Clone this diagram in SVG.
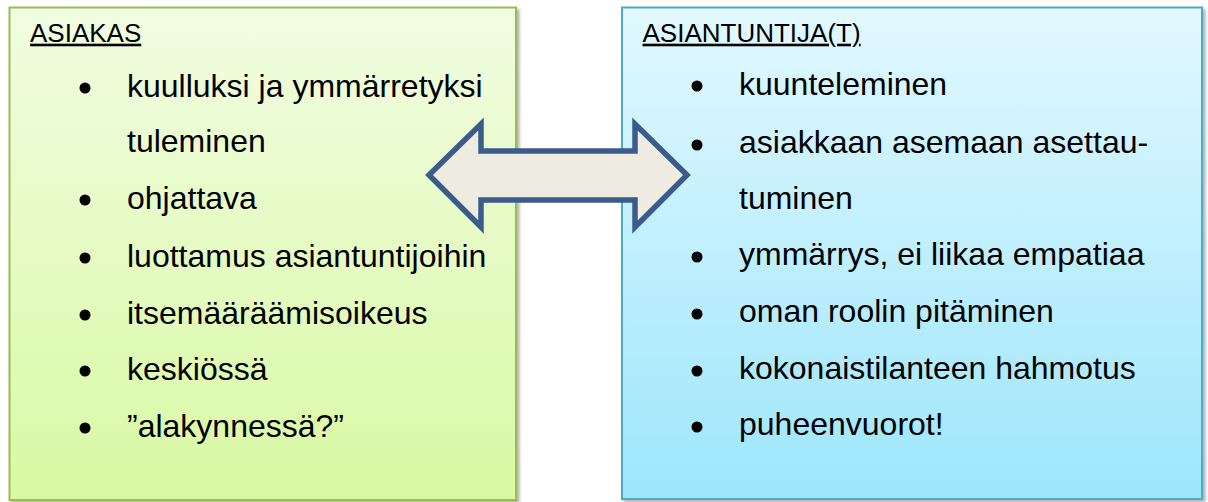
<svg xmlns="http://www.w3.org/2000/svg" width="1208" height="502" viewBox="0 0 1208 502">
<style>
.hdr{font-family:"Liberation Sans",Arial,sans-serif;font-size:26px;fill:#000;text-decoration:underline}
.item{font-family:"Liberation Sans",Arial,sans-serif;font-size:32px;fill:#000}
.dot{fill:#000}
</style>
<defs>
<linearGradient id="gGreen" x1="0" y1="0" x2="0" y2="1">
<stop offset="0" stop-color="#f1fde2"/>
<stop offset="1" stop-color="#d9f9a3"/>
</linearGradient>
<linearGradient id="gBlue" x1="0" y1="0" x2="0" y2="1">
<stop offset="0" stop-color="#e2f8ff"/>
<stop offset="1" stop-color="#9de6fc"/>
</linearGradient>
<filter id="sh" x="-5%" y="-5%" width="110%" height="110%">
<feDropShadow dx="2.5" dy="2.5" stdDeviation="1.5" flood-color="#000" flood-opacity="0.3"/>
</filter>
</defs>
<rect width="1208" height="502" fill="#fff"/>
<g id="asiakas">
<rect x="9.5" y="7.5" width="506.5" height="492.5" fill="url(#gGreen)" stroke="#9bbb59" stroke-width="2" filter="url(#sh)"/>
<text class="hdr" x="30" y="41.7">ASIAKAS</text>
<circle class="dot" cx="85" cy="88" r="5.5"/>
<text class="item" x="127" y="97">kuulluksi ja ymmärretyksi</text>
<text class="item" x="127" y="152">tuleminen</text>
<circle class="dot" cx="85" cy="200" r="5.5"/>
<text class="item" x="127" y="208.5">ohjattava</text>
<circle class="dot" cx="85" cy="258" r="5.5"/>
<text class="item" x="127" y="266.5">luottamus asiantuntijoihin</text>
<circle class="dot" cx="85" cy="315" r="5.5"/>
<text class="item" x="127" y="323.5">itsemääräämisoikeus</text>
<circle class="dot" cx="85" cy="371" r="5.5"/>
<text class="item" x="127" y="380">keskiössä</text>
<circle class="dot" cx="85" cy="428" r="5.5"/>
<text class="item" x="127" y="437">”alakynnessä?”</text>
</g>
<g id="asiantuntija">
<rect x="622" y="7.5" width="580" height="491.5" fill="url(#gBlue)" stroke="#4bacc6" stroke-width="2" filter="url(#sh)"/>
<text class="hdr" x="642.5" y="41.7">ASIANTUNTIJA(T)</text>
<circle class="dot" cx="697" cy="86" r="5.5"/>
<text class="item" x="739" y="95">kuunteleminen</text>
<circle class="dot" cx="697" cy="145" r="5.5"/>
<text class="item" x="739" y="153.3">asiakkaan asemaan asettau-</text>
<text class="item" x="739" y="208.5">tuminen</text>
<circle class="dot" cx="697" cy="257" r="5.5"/>
<text class="item" x="739" y="265">ymmärrys, ei liikaa empatiaa</text>
<circle class="dot" cx="697" cy="314" r="5.5"/>
<text class="item" x="739" y="321.7">oman roolin pitäminen</text>
<circle class="dot" cx="697" cy="371" r="5.5"/>
<text class="item" x="739" y="379.3">kokonaistilanteen hahmotus</text>
<circle class="dot" cx="697" cy="427" r="5.5"/>
<text class="item" x="739" y="435">puheenvuorot!</text>
</g>
<g id="connectors">
<polygon points="429,175 481,124 481,151 635,151 635,124 687,175 635,227 635,200 481,200 481,227" fill="#eeebe0" stroke="#3a5b8b" stroke-width="5.5" stroke-linejoin="miter"/>
</g>
</svg>
